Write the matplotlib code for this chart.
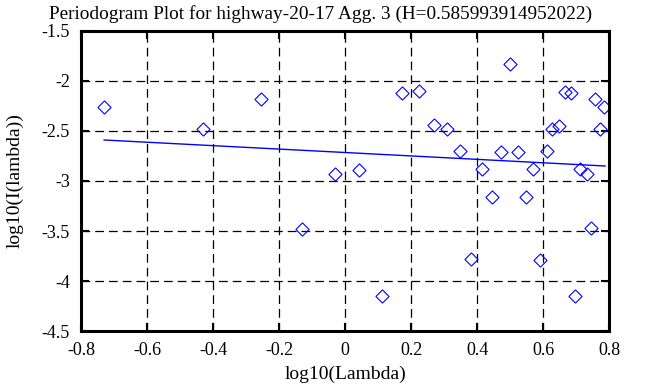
"""Periodogram plot for highway-20-17 Agg. 3"""

import matplotlib
matplotlib.use("Agg")
import matplotlib.pyplot as plt

# log10 of frequency, and log10 of periodogram values
log_lambda = [-0.730, -0.430, -0.255, -0.130, -0.030, 0.042, 0.113, 0.173,
              0.223, 0.270, 0.309, 0.348, 0.383, 0.415, 0.445, 0.473, 0.500,
              0.524, 0.548, 0.569, 0.591, 0.612, 0.627, 0.648, 0.666, 0.684,
              0.698, 0.712, 0.732, 0.745, 0.759, 0.774, 0.785]
log_i = [-2.26, -2.48, -2.18, -3.48, -2.93, -2.89, -4.15, -2.12,
         -2.10, -2.44, -2.48, -2.70, -3.78, -2.88, -3.16, -2.71, -1.83,
         -2.71, -3.16, -2.88, -3.79, -2.70, -2.48, -2.45, -2.11, -2.12,
         -4.15, -2.88, -2.93, -3.47, -2.18, -2.48, -2.26]

# fitted line end points
fit_x = [-0.730, 0.788]
fit_y = [-2.59, -2.85]

title = "Periodogram Plot for highway-20-17 Agg. 3 (H=0.585993914952022)"

plt.rcParams['font.family'] = ['Liberation Serif', 'DejaVu Serif']

fig = plt.figure(figsize=(6.68, 3.87), dpi=100)
ax = fig.add_axes([0.1213, 0.1447, 0.7904, 0.7752])

ax.plot(log_lambda, log_i, linestyle='none', marker=(4, 0, 0), markersize=9.5,
        markerfacecolor='none', markeredgecolor='blue', markeredgewidth=0.8)
ax.plot(fit_x, fit_y, color='blue', linewidth=1.0)

ax.set_xlim(-0.8, 0.8)
ax.set_ylim(-4.5, -1.5)
ax.set_xticks([-0.8, -0.6, -0.4, -0.2, 0, 0.2, 0.4, 0.6, 0.8])
ax.set_xticklabels(['-0.8', '-0.6', '-0.4', '-0.2', '0', '0.2', '0.4', '0.6', '0.8'])
ax.set_yticks([-4.5, -4, -3.5, -3, -2.5, -2, -1.5])
ax.set_yticklabels(['-4.5', '-4', '-3.5', '-3', '-2.5', '-2', '-1.5'])

ax.grid(True, color='black', linestyle=(0, (7, 4)), linewidth=0.9)
ax.tick_params(direction='in', length=6, width=1.5, top=True, right=True,
               labelsize=13)
ax.tick_params(axis='x', pad=8)
ax.tick_params(axis='y', pad=8)
for sp in ax.spines.values():
    sp.set_linewidth(2.2)

ax.set_xlabel("log10(Lambda)", fontsize=14, labelpad=5)
ax.set_ylabel("log10(I(lambda))", fontsize=14, labelpad=13)
ax.set_title(title, fontsize=13.9, pad=9, x=0.4545)

fig.savefig("out.png", dpi=100)
